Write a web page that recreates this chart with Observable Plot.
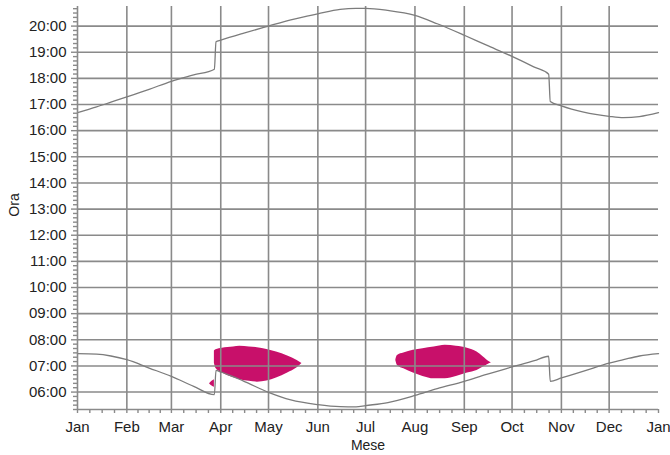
<!DOCTYPE html>
<html><head><meta charset="utf-8">
<script src="https://cdn.jsdelivr.net/npm/d3@7"></script>
<script src="https://cdn.jsdelivr.net/npm/@observablehq/plot@0.6"></script>
<style>
html,body{margin:0;padding:0;background:#fff;}
#chart svg{display:block;}
</style></head><body><div id="chart"></div>
<script>
// ---- axis ticks / labels ----
const monthTicks = ["2015-01-01","2015-02-01","2015-03-01","2015-04-01","2015-05-01","2015-06-01","2015-07-01","2015-08-01","2015-09-01","2015-10-01","2015-11-01","2015-12-01","2016-01-01"];
const monthLabels = ["Jan","Feb","Mar","Apr","May","Jun","Jul","Aug","Sep","Oct","Nov","Dec","Jan"];
const hourTicks = [6,7,8,9,10,11,12,13,14,15,16,17,18,19,20];
const hourLabels = ["06:00","07:00","08:00","09:00","10:00","11:00","12:00","13:00","14:00","15:00","16:00","17:00","18:00","19:00","20:00"];
const yDomain = [5 + 20/60, 20.75];

// ---- sunrise / sunset (hours) ----
const sunDates = ["2015-01-01","2015-01-13","2015-01-22","2015-02-01","2015-02-15","2015-03-01","2015-03-15","2015-03-28","2015-03-29","2015-04-01","2015-04-15","2015-05-01","2015-05-15","2015-06-01","2015-06-15","2015-06-25","2015-07-01","2015-07-15","2015-08-01","2015-08-15","2015-09-01","2015-09-15","2015-10-01","2015-10-15","2015-10-24","2015-10-25","2015-11-01","2015-11-15","2015-12-01","2015-12-10","2015-12-20","2016-01-01"];
const sunsetHours = [16.69,16.91,17.09,17.29,17.58,17.89,18.13,18.35,19.40,19.46,19.72,20.00,20.24,20.47,20.64,20.68,20.68,20.60,20.41,20.09,19.65,19.27,18.84,18.43,18.16,17.12,16.95,16.71,16.55,16.50,16.54,16.69];
const sunriseHours = [7.47,7.45,7.38,7.24,6.92,6.60,6.22,5.90,6.83,6.77,6.43,5.99,5.70,5.52,5.44,5.43,5.48,5.60,5.87,6.13,6.41,6.68,6.96,7.20,7.37,6.41,6.54,6.80,7.11,7.24,7.38,7.47];

// ---- magenta periods (start / end hour per day) ----
const springDates = ["2015-03-28","2015-03-29","2015-04-02","2015-04-09","2015-04-13","2015-04-19","2015-04-24","2015-04-30","2015-05-06","2015-05-13","2015-05-19","2015-05-22"];
const springStart = [7.10,6.90,6.73,6.55,6.47,6.41,6.38,6.42,6.54,6.73,6.93,7.09];
const springEnd   = [7.57,7.62,7.68,7.72,7.75,7.72,7.70,7.63,7.53,7.38,7.21,7.09];

const smallDates = ["2015-03-25","2015-03-26","2015-03-27","2015-03-28"];
const smallStart = [6.31,6.25,6.21,6.18];
const smallEnd   = [6.32,6.39,6.43,6.47];

const summerDates = ["2015-07-20","2015-07-21","2015-07-25","2015-07-31","2015-08-06","2015-08-13","2015-08-20","2015-08-27","2015-09-03","2015-09-09","2015-09-13","2015-09-17","2015-09-18"];
const summerStart = [7.20,7.02,6.89,6.73,6.60,6.51,6.51,6.60,6.73,6.83,6.96,7.09,7.12];
const summerEnd   = [7.24,7.40,7.49,7.60,7.66,7.72,7.79,7.75,7.68,7.53,7.34,7.15,7.12];

// ---- build tables ----
const P = d => new Date(d + "T00:00:00Z");
const sun = sunDates.map((d,i) => ({date: P(d), rise: sunriseHours[i], set: sunsetHours[i]}));
const mk = (dates, lo, hi, id) => dates.map((d,i) => ({date: P(d), lo: lo[i], hi: hi[i], id}));
const blobs = [
  ...mk(springDates, springStart, springEnd, "spring"),
  ...mk(smallDates, smallStart, smallEnd, "small"),
  ...mk(summerDates, summerStart, summerEnd, "summer")
];
const monthDates = monthTicks.map(P);
// quarter-month minor ticks
const minorX = [];
for (let m = 0; m < 12; m++) {
  const a = +monthDates[m], b = +monthDates[m+1];
  for (let k = 1; k < 4; k++) minorX.push(new Date(a + k*(b-a)/4));
}
const minorY = [];
for (let t = Math.ceil(yDomain[0]*6); t <= Math.floor(yDomain[1]*6); t++) if (t % 6) minorY.push(t/6);

const grey = "#8a8a8a";
const font = "'Liberation Sans', Arial, Helvetica, sans-serif";

const chart = Plot.plot({
  width: 670, height: 455,
  marginLeft: 77, marginRight: 12, marginTop: 6, marginBottom: 46,
  style: {fontFamily: font, fontSize: "15px", color: "#222", background: "#fff"},
  x: {type: "utc", domain: [monthDates[0], monthDates[12]]},
  y: {domain: yDomain},
  marks: [
    Plot.areaY(blobs, {x: "date", y1: "lo", y2: "hi", z: "id", fill: "#c8106a", curve: "monotone-x"}),
    Plot.ruleX(monthDates.slice(1, 12), {stroke: grey, strokeWidth: 1.6}),
    Plot.ruleY(hourTicks, {stroke: grey, strokeWidth: 1.6}),
    Plot.line(sun, {x: "date", y: "set", stroke: "#7c7c7c", strokeWidth: 1.3, curve: "monotone-x"}),
    Plot.line(sun, {x: "date", y: "rise", stroke: "#7c7c7c", strokeWidth: 1.3, curve: "monotone-x"}),
    Plot.ruleX([monthDates[0]], {stroke: grey, strokeWidth: 1.6}),
    Plot.ruleY([yDomain[0]], {stroke: grey, strokeWidth: 1.6}),
    Plot.axisY({ticks: hourTicks, tickSize: 6, tickPadding: 5, tickFormat: d => hourLabels[hourTicks.indexOf(d)], label: null, stroke: grey, strokeWidth: 1.4, fill: "#222", fontSize: 15}),
    Plot.axisY({ticks: minorY, tickSize: 4, tickFormat: () => "", label: null, stroke: grey, strokeWidth: 1.4}),
    Plot.axisX({ticks: monthDates, tickSize: 4, tickPadding: 8, tickFormat: d => monthLabels[monthDates.findIndex(t => +t === +d)], label: null, stroke: grey, strokeWidth: 1.4, fill: "#222", fontSize: 15}),
    Plot.axisX({ticks: minorX, tickSize: 4, tickFormat: () => "", label: null, stroke: grey, strokeWidth: 1.4}),
    Plot.text(["Ora"], {frameAnchor: "left", dx: -63, dy: -3, rotate: -90, textAnchor: "middle", lineAnchor: "middle", fontSize: 14, fill: "#222"}),
    Plot.text(["Mese"], {frameAnchor: "bottom", dy: 36, textAnchor: "middle", lineAnchor: "middle", fontSize: 14, fill: "#222"})
  ]
});
document.getElementById("chart").appendChild(chart);
</script>
</body></html>
